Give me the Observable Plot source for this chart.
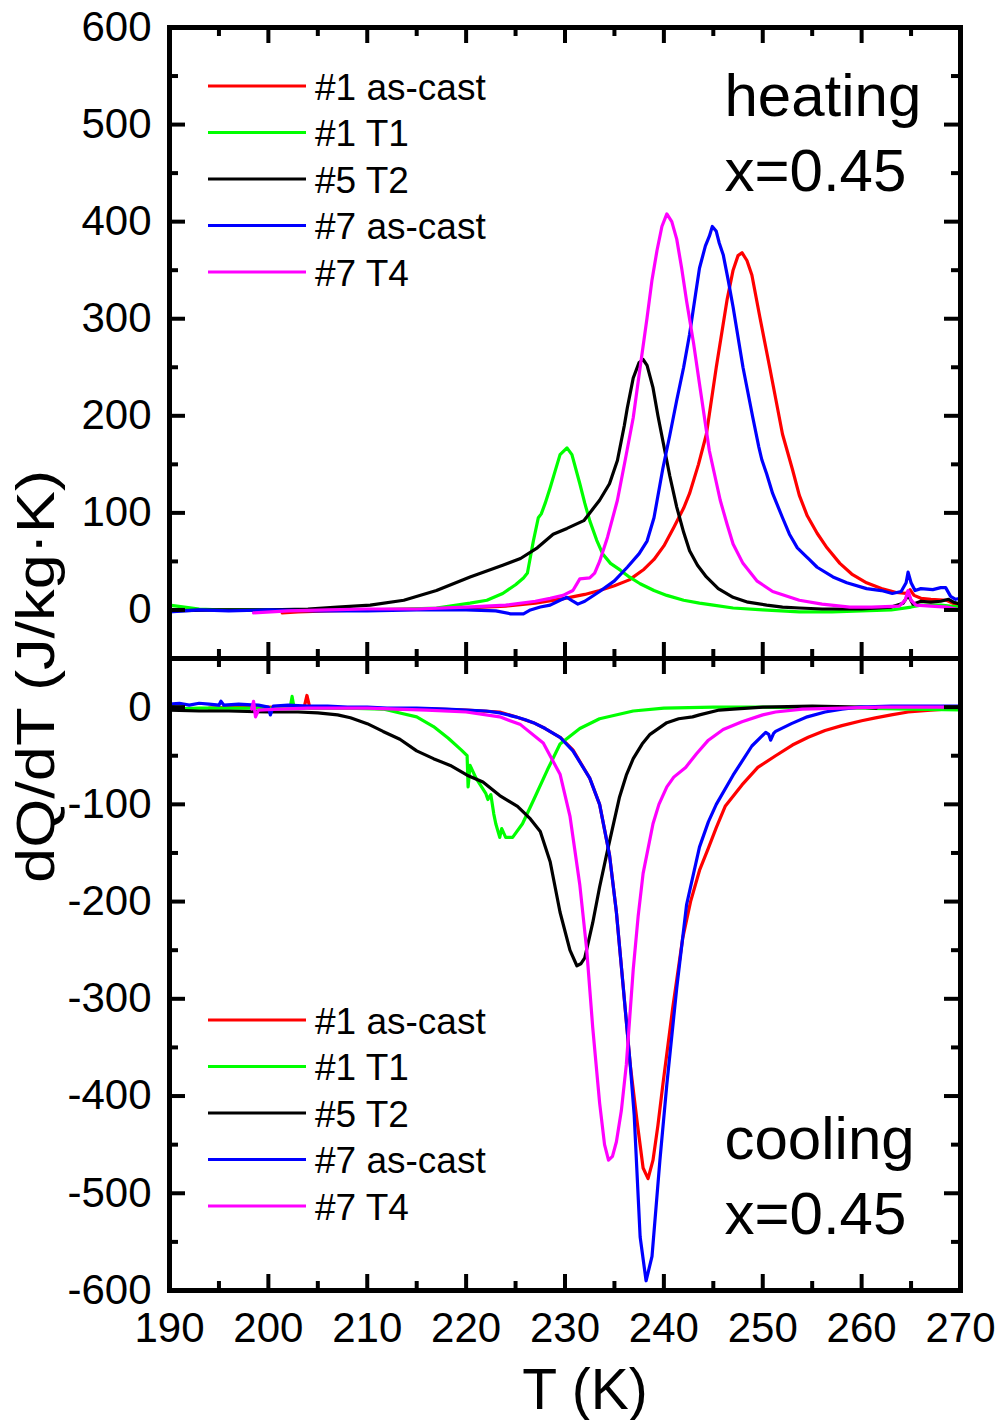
<!DOCTYPE html>
<html><head><meta charset="utf-8">
<script src="https://cdn.jsdelivr.net/npm/d3@7"></script>
<script src="https://cdn.jsdelivr.net/npm/@observablehq/plot@0.6"></script>
<style>
body{margin:0;background:#fff;}
#wrap{position:relative;width:1001px;height:1420px;background:#fff;}
#wrap > svg{display:block}
#overlay{position:absolute;left:0;top:0;pointer-events:none}
</style></head><body><div id="wrap"></div>
<script>
const FONT = '"Liberation Sans", Arial, Helvetica, sans-serif';

// ---------- series / legend ----------
const seriesNames  = ["#1 as-cast", "#1 T1", "#5 T2", "#7 as-cast", "#7 T4"];
const seriesColors = ["#ff0000", "#00ff00", "#000000", "#0000ff", "#ff00ff"];

// ---------- ticks ----------
const xMajor = [190, 200, 210, 220, 230, 240, 250, 260, 270];
const xMinor = [195, 205, 215, 225, 235, 245, 255, 265];
const xTickLabels = ["190", "200", "210", "220", "230", "240", "250", "260", "270"];
const yTopMajor = [0, 100, 200, 300, 400, 500, 600];
const yTopMinor = [50, 150, 250, 350, 450, 550];
const yTopLabels = ["0", "100", "200", "300", "400", "500", "600"];
const yBotMajor = [0, -100, -200, -300, -400, -500, -600];
const yBotMinor = [-50, -150, -250, -350, -450, -550];
const yBotLabels = ["0", "-100", "-200", "-300", "-400", "-500", "-600"];
const xDomain = [190, 270];
const yTopDomain = [-50, 600];
const yBotDomain = [-600, 50];

const xTitle = "T (K)";
const yTitle = "dQ/dT (J/kg·K)";
const annotTop = "heating\nx=0.45";
const annotBot = "cooling\nx=0.45";

// ---------- heating data [T (K), dQ/dT] ----------
const heat_1ascast = [[201.4,-3],[203,-2],[206,-1],[210,0],[215,1],[220,2],[224,4],[227,7],[230,12],[232,16],[233.5,20],[235,25],[236.5,31],[238,42],[239,52],[240,66],[241,85],[242,105],[242.6,120],[243.5,150],[244.3,181],[245.3,250],[246.4,320],[247,350],[247.5,365],[247.9,368],[248.4,360],[248.9,345],[249.7,302],[250.7,250],[252,181],[253,145],[253.7,118],[254.5,97],[255.5,79],[256.5,64],[257.8,48],[259,37],[260.5,28],[262,22],[263.5,18],[264.5,17],[264.9,21],[265.3,15],[266,12],[267,11],[268.6,10],[269.2,7],[270,3]];
const heat_1T1 = [[190,5],[191.5,3],[193,1],[195,0],[200,0],[205,0],[210,0],[214,1],[217,2],[220.4,7],[222.1,10],[223.7,17],[225,26],[225.8,33],[226.2,38],[226.8,71],[227.3,95],[227.6,99],[228,110],[228.5,126],[229,143],[229.5,160],[230.2,167],[230.7,160],[231.5,130],[232,110],[232.5,92],[233.2,72],[233.8,58],[234.6,48],[235.6,41],[236.5,34],[237.6,27],[239,20],[240.3,15],[242,10],[243.6,7],[245,5],[247,2],[250,0],[253.7,-2],[257,-2],[260,-1],[263,0],[265,3],[266,5],[268,5],[270,3]];
const heat_5T2 = [[190,-1],[195,0],[200,0],[204,1],[207,3],[210.3,5],[213.7,10],[217,20],[220.4,34],[223.7,46],[225.5,53],[227.2,64],[228.8,78],[230.2,84],[231.9,92],[233.5,113],[234.5,130],[235.3,154],[236,190],[236.3,208],[236.9,239],[237.5,255],[237.9,258],[238.3,252],[238.9,229],[239.4,200],[239.9,174],[240.6,138],[241.3,106],[242,80],[242.6,61],[243.4,46],[244.3,34],[245.5,22],[247,13],[248.5,8],[250.4,5],[252,3],[253.7,2],[256,1],[260,1],[263,3],[264.2,7],[264.7,15],[265.2,6],[266,9],[267,8],[268,9],[268.8,11],[269.3,8],[270,6]];
const heat_7ascast = [[190,-2],[193,0],[196,-1],[200,0],[205,-1],[210,-1],[215,0],[220,0],[223,-1],[224.5,-4],[225.8,-4],[226.5,0],[227.5,3],[228.5,5],[229.5,10],[230.2,13],[230.8,9],[231.3,6],[232,9],[233.5,19],[235,30],[236.3,44],[237.5,58],[238.3,71],[239,95],[239.9,146],[240.6,180],[241.3,216],[242,250],[242.6,284],[243.2,325],[243.6,352],[244.2,375],[244.6,385],[244.9,395],[245.3,390],[245.6,378],[246,366],[246.5,340],[247,312],[248,250],[249,198],[249.6,168],[249.9,155],[250.4,140],[251,120],[252,95],[252.7,78],[253.5,64],[254.3,56],[254.7,52],[255.5,44],[257.1,34],[258.5,28],[260.5,22],[262,20],[263.1,17],[264,19],[264.5,28],[264.7,39],[265,28],[265.4,20],[266,22],[267.2,21],[268,23],[268.5,23],[269,14],[269.5,11],[270,12]];
const heat_7T4 = [[198.5,-3],[202,-1],[206,0],[210,1],[215,1],[220,3],[224,5],[227,9],[228.5,12],[229.8,15],[230.8,20],[231.5,32],[232.5,33],[233,38],[233.5,50],[234.3,75],[235.3,113],[236.1,155],[236.9,198],[237.6,250],[238.3,301],[238.8,340],[239.3,370],[239.8,395],[240.3,408],[240.8,400],[241.3,382],[241.8,352],[242.3,318],[243,275],[243.6,233],[244.6,164],[245.7,113],[246.4,88],[247,68],[248,48],[249.4,30],[251,19],[253.7,10],[256,6],[258.8,3],[261,3],[263.8,4],[264.4,10],[264.7,20],[265,10],[265.5,5],[267,4],[268.6,3],[270,0]];

// ---------- cooling data [T (K), dQ/dT] ----------
const cool_1ascast = [[194,-1],[197,0],[200,0],[203.6,-1],[203.9,12],[204.2,-1],[207,-1],[210,-1],[213,-2],[217,-2],[220,-3],[223.4,-5],[225,-10],[226.8,-16],[228,-22],[229.5,-31],[230.8,-44],[232.5,-73],[233.5,-100],[234.5,-152],[235.2,-211],[235.9,-289],[236.6,-368],[237.3,-427],[237.9,-474],[238.4,-485],[238.9,-466],[239.4,-430],[239.9,-388],[240.9,-309],[241.9,-238],[242.7,-200],[243.6,-168],[244.5,-145],[245.3,-124],[246.2,-102],[247.9,-80],[249.5,-62],[251.3,-50],[253,-39],[254.6,-31],[256.3,-24],[258,-19],[260,-14],[261.4,-11],[263,-8],[264.7,-5],[267,-3],[270,-1]];
const cool_1T1 = [[190,-2],[193,-1],[196,-1],[199,-1],[202.2,-1],[202.4,11],[202.6,-1],[205,-1],[208,-1],[211.6,-2],[213.3,-6],[215,-10],[216.7,-20],[218.2,-32],[219.5,-44],[220.1,-50],[220.2,-82],[220.4,-60],[221,-73],[222,-89],[222.2,-95],[222.5,-90],[222.8,-110],[223,-120],[223.4,-134],[223.6,-125],[224,-134],[224.7,-134],[225.7,-120],[226.8,-96],[228.2,-65],[229.5,-38],[231.5,-22],[233.5,-12],[236.9,-4],[240,-1],[245,0],[250,0],[255,-1],[260,-1],[265,-2],[270,-3]];
const cool_5T2 = [[190,-3],[193,-4],[196,-4],[200,-5],[203,-5],[205,-6],[207,-8],[208.3,-11],[210,-17],[211.6,-25],[213.3,-33],[215,-45],[216.7,-53],[218.4,-60],[220.1,-70],[221.7,-77],[223.4,-91],[225.2,-102],[226.5,-115],[227.5,-128],[228.5,-159],[229.5,-211],[230.5,-250],[231.2,-266],[231.6,-264],[232,-258],[232.8,-222],[233.5,-185],[234.2,-152],[235.5,-93],[236.2,-70],[236.9,-53],[237.8,-38],[238.6,-28],[240.3,-16],[241.5,-12],[242.9,-10],[243.6,-8],[245.6,-3],[247,-2],[250,0],[255,1],[260,0],[261.5,-1]];
const cool_7ascast = [[190,3],[191,4],[192,2],[193,4],[194,3],[195,2],[195.2,6],[195.5,2],[197,3],[199,2],[200,0],[200.2,-8],[200.5,1],[202,2],[204,1],[206,1],[208,0],[210,0],[212,-1],[215,-1],[218,-2],[220,-3],[222,-4],[223.4,-6],[225,-10],[226,-13],[226.8,-16],[228,-22],[229.5,-31],[230.8,-45],[232.5,-73],[233.5,-100],[234.5,-152],[235.2,-211],[235.9,-289],[236.6,-368],[237,-420],[237.6,-545],[238.2,-590],[238.8,-565],[239.6,-466],[240.3,-388],[241.3,-289],[242.3,-203],[243.6,-144],[244.5,-118],[245.3,-100],[247,-70],[248.9,-40],[250.3,-26],[250.6,-28],[250.8,-34],[251.1,-27],[251.3,-25],[252.9,-17],[254.5,-10],[256.3,-5],[258,-2],[259.7,0],[263,1],[267,1],[270,1]];
const cool_7T4 = [[198.3,-2],[198.5,6],[198.7,-10],[199,-3],[201,-2],[204,-1],[207,-1],[210,-1],[213,-2],[216,-3],[220,-5],[223.4,-10],[225.5,-18],[227.8,-37],[229.5,-69],[230.5,-112],[231.5,-183],[232.2,-250],[232.8,-329],[233.5,-407],[234,-450],[234.4,-466],[234.8,-462],[235.2,-447],[235.7,-415],[236.2,-368],[236.9,-270],[237.4,-215],[237.9,-171],[238.9,-120],[239.5,-100],[240.3,-82],[241,-72],[242.2,-62],[243.3,-48],[244.5,-34],[246,-23],[247.9,-15],[250,-8],[251.3,-5],[254,-2],[258,-1],[262,0],[270,0]];

const heatingSeries = [heat_1ascast, heat_1T1, heat_5T2, heat_7ascast, heat_7T4];
const coolingSeries = [cool_1ascast, cool_1T1, cool_5T2, cool_7ascast, cool_7T4];

// ---------- layout ----------
const W = 1001, ML = 169, MR = 41;
const FW = W - ML - MR;
const MAJ = 16, MIN = 9;

function panel({height, marginTop, marginBottom, yDomain, yMajor, yMinor, yLabels, series, annot, annotDy, showX}) {
  const FH = height - marginTop - marginBottom;
  const marks = [];
  series.forEach((data, i) => {
    marks.push(Plot.line(data, {x: d => d[0], y: d => d[1], stroke: seriesColors[i], strokeWidth: 3.2, clip: true}));
  });
  marks.push(Plot.frame({stroke: "black", strokeWidth: 5}));
  const tk = {stroke: "black", strokeWidth: 4};
  for (const [arr, len] of [[xMajor, MAJ], [xMinor, MIN]]) {
    marks.push(Plot.tickX(arr, {x: d => d, insetTop: FH - len, ...tk}));
    marks.push(Plot.tickX(arr, {x: d => d, insetBottom: FH - len, ...tk}));
  }
  for (const [arr, len] of [[yMajor, MAJ], [yMinor, MIN]]) {
    marks.push(Plot.tickY(arr, {y: d => d, insetRight: FW - len, ...tk}));
    marks.push(Plot.tickY(arr, {y: d => d, insetLeft: FW - len, ...tk}));
  }
  marks.push(Plot.text(yMajor, {y: d => d, text: (d, i) => yLabels[i], frameAnchor: "left", textAnchor: "end", dx: -18, lineAnchor: "middle", fontSize: 42, fill: "black"}));
  if (showX) {
    marks.push(Plot.text(xMajor, {x: d => d, text: (d, i) => xTickLabels[i], frameAnchor: "bottom", dy: 38, lineAnchor: "middle", fontSize: 42, fill: "black"}));
    marks.push(Plot.text([xTitle], {text: d => d, frameAnchor: "bottom", dx: 20, dy: 118, lineAnchor: "bottom", fontSize: 57, fill: "black"}));
  }
  marks.push(Plot.text([annot], {text: d => d, frameAnchor: "top-left", textAnchor: "start", lineAnchor: "top", dx: 555, dy: annotDy, fontSize: 60, lineHeight: 1.25, fill: "black"}));
  return Plot.plot({
    width: W, height, marginLeft: ML, marginRight: MR, marginTop, marginBottom,
    x: {domain: xDomain, axis: null},
    y: {domain: yDomain, axis: null},
    style: {fontFamily: FONT, background: "white", overflow: "visible"},
    marks
  });
}

const wrap = document.getElementById("wrap");
wrap.append(panel({height: 658, marginTop: 27, marginBottom: 0, yDomain: yTopDomain, yMajor: yTopMajor, yMinor: yTopMinor, yLabels: yTopLabels, series: heatingSeries, annot: annotTop, annotDy: 35, showX: false}));
wrap.append(panel({height: 762, marginTop: 0, marginBottom: 130, yDomain: yBotDomain, yMajor: yBotMajor, yMinor: yBotMinor, yLabels: yBotLabels, series: coolingSeries, annot: annotBot, annotDy: 447, showX: true}));

// ---------- overlay: legends + y title ----------
const ov = d3.create("svg").attr("id", "overlay").attr("width", 1001).attr("height", 1420)
  .style("font-family", FONT);
function legend(yTop) {
  seriesNames.forEach((name, i) => {
    const y = yTop + i * 46.5;
    ov.append("line").attr("x1", 208).attr("x2", 306).attr("y1", y).attr("y2", y)
      .attr("stroke", seriesColors[i]).attr("stroke-width", 3);
    ov.append("text").attr("x", 315).attr("y", y + 13.5).attr("font-size", 37).attr("fill", "black").text(name);
  });
}
legend(86);
legend(1020);
ov.append("text").attr("transform", "translate(54,676.5) rotate(-90)")
  .attr("text-anchor", "middle").attr("font-size", 54).attr("fill", "black")
  .attr("textLength", 413).attr("lengthAdjust", "spacingAndGlyphs").text(yTitle);
wrap.append(ov.node());
</script></body></html>
